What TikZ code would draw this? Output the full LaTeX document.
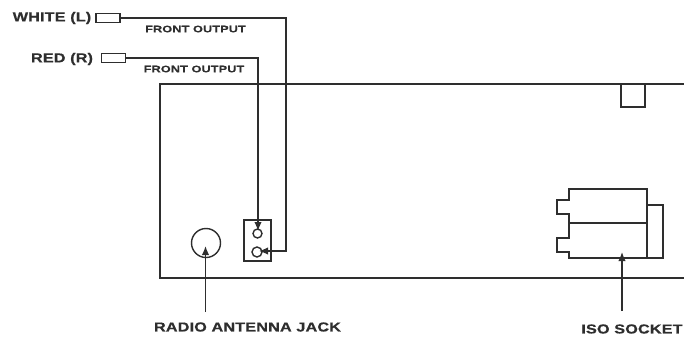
\documentclass[tikz,border=0pt]{standalone}
\usepackage{fontspec}
\setmainfont{Liberation Sans}
\usepackage{xcolor}
\usetikzlibrary{arrows.meta}
\definecolor{inkline}{HTML}{2E2E2E}

\begin{document}
\begin{tikzpicture}[>={Latex[width=7.5pt,length=9pt]},
                x=1pt,y=-1pt,
                line width=1.4pt,
                color=inkline,
                plug/.style = {draw, rectangle, inner sep=0pt, minimum width=24pt, minimum height=8.5pt},
                hole/.style = {draw, circle, inner sep=0pt},
                panel/.style = {draw, rectangle, inner sep=0pt},
                bigtext/.style = {inner sep=0pt, font=\fontsize{13}{14}\selectfont\bfseries\addfontfeature{FakeStretch=1.25,LetterSpace=1,FakeBold=0.6}},
                smalltext/.style = {inner sep=0pt, font=\fontsize{9.5}{11}\selectfont\bfseries\addfontfeature{FakeStretch=1.34,LetterSpace=1,FakeBold=0.4}}]
            \useasboundingbox (0,0) rectangle (684,340);

            % Nodes
            \node[plug] (W) at (108,18) {};
            \node[plug] (R) at (113.5,58) {};
            \node[bigtext] (WT) at (52,18) {WHITE (L)};
            \node[bigtext] (RT) at (62,59) {RED (R)};
            \node[smalltext] (FW) at (195.5,29) {FRONT OUTPUT};
            \node[smalltext] (FR) at (194,69) {FRONT OUTPUT};
            \node[panel,minimum width=24pt,minimum height=23pt] (S) at (633,95.5) {};
            \node[panel,minimum width=27pt,minimum height=41pt] (J) at (257.5,240.5) {};
            \node[hole,minimum size=9pt] (CR) at (257.5,233.5) {};
            \node[hole,minimum size=10pt] (CW) at (257,252) {};
            \node[hole,minimum size=29pt] (A) at (206,243) {};
            \node[panel,minimum width=16pt,minimum height=53pt] (P) at (655,231.5) {};
            \node[bigtext] (AT) at (247.5,327) {RADIO ANTENNA JACK};
            \node[bigtext] (ST) at (632,329) {ISO SOCKET};
            \coordinate (AF) at (205.5,312);
            \coordinate (AE) at (205.5,246);
            \coordinate (SF) at (622,311);
            \coordinate (SE) at (622,252);
            \coordinate (RE) at (258,231);
            \coordinate (WE) at (259,251);

            % Body
            \draw (684,84) -- (160,84) -- (160,278) -- (684,278);
            % Socket
            \draw (647,189) -- (569,189) -- (569,200) -- (557,200) -- (557,214) -- (569,214)
                -- (569,238) -- (557,238) -- (557,252) -- (569,252) -- (569,258) -- (647,258) -- cycle;
            \draw (569,223) -- (647,223);

            %Edges
            \draw[->] (W.east) -- (286,18) |- (WE);
            \draw[->] (R.east) -| (RE);
            \draw[->] (AF) -- (AE);
            \draw[->] (SF) -- (SE);
        \end{tikzpicture}
\end{document}
